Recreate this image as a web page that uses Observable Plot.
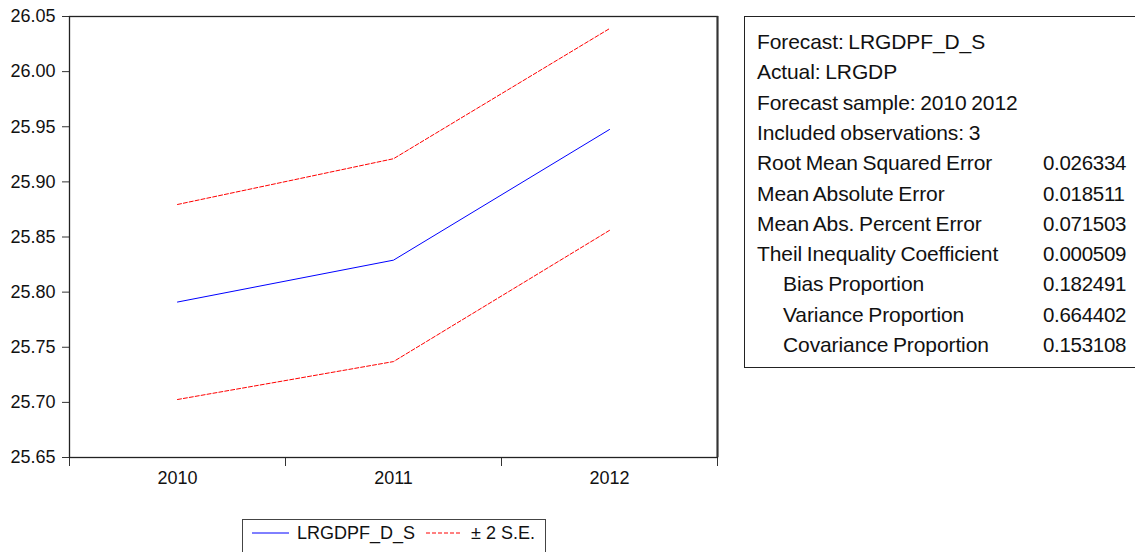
<!DOCTYPE html>
<html>
<head>
<meta charset="utf-8">
<script src="https://cdn.jsdelivr.net/npm/d3@7"></script>
<script src="https://cdn.jsdelivr.net/npm/@observablehq/plot@0.6"></script>
<style>
  html, body { margin: 0; padding: 0; background: #fff; }
  #wrap { position: relative; width: 1135px; height: 552px; overflow: hidden; font-family: "Liberation Sans", Arial, sans-serif; }
  #stats { position: absolute; left: 744px; top: 16px; width: 420px; height: 352px; border: 1px solid #222; box-sizing: border-box; font-size: 21px; color: #111; line-height: 24px; }
  #stats .row { position: absolute; left: 12px; white-space: nowrap; letter-spacing: -0.1px; word-spacing: -1px; }
  #stats .val { position: absolute; left: 298px; white-space: nowrap; font-size: 20.5px; letter-spacing: -0.3px; }
  #legend { position: absolute; left: 242px; top: 519px; width: 304px; height: 40px; border: 1px solid #444; box-sizing: border-box; font-size: 18px; color: #111; line-height: 22px; }
  #legend .t { position: absolute; top: 2px; white-space: nowrap; }
  #legend svg { position: absolute; left: 0; top: 0; }
</style>
</head>
<body>
<div id="wrap"></div>
<script>
const years = [2010, 2011, 2012];
const forecast = [25.791, 25.829, 25.9475];
const upper = [25.8795, 25.921, 26.039];
const lower = [25.7026, 25.737, 25.856];
const yTicks = [25.65, 25.70, 25.75, 25.80, 25.85, 25.90, 25.95, 26.00, 26.05];
const xBoundaries = [2009.5, 2010.5, 2011.5, 2012.5];
const statLabels = ["Forecast: LRGDPF_D_S", "Actual: LRGDP", "Forecast sample: 2010 2012", "Included observations: 3",
  "Root Mean Squared Error", "Mean Absolute Error", "Mean Abs. Percent Error", "Theil Inequality Coefficient",
  "Bias Proportion", "Variance Proportion", "Covariance Proportion"];
const statValues = ["", "", "", "", "0.026334", "0.018511", "0.071503", "0.000509", "0.182491", "0.664402", "0.153108"];
const statIndent = [0, 0, 0, 0, 0, 0, 0, 0, 1, 1, 1];
const legendLabels = ["LRGDPF_D_S", "± 2 S.E."];

const fc = years.map((x, i) => ({x, y: forecast[i]}));
const up = years.map((x, i) => ({x, y: upper[i]}));
const lo = years.map((x, i) => ({x, y: lower[i]}));

const chart = Plot.plot({
  width: 1135,
  height: 552,
  marginLeft: 69,
  marginTop: 16,
  marginRight: 418,
  marginBottom: 95,
  style: {fontFamily: '"Liberation Sans", Arial, sans-serif', fontSize: "18px", color: "#111", background: "transparent"},
  x: {domain: [2009.5, 2012.5]},
  y: {domain: [25.65, 26.05]},
  marks: [
    Plot.axisY({ticks: yTicks, tickFormat: d3.format(".2f"), tickSize: 7, tickPadding: 7, label: null, fontSize: 18, stroke: "#333"}),
    Plot.axisX({ticks: xBoundaries, tickFormat: () => "", tickSize: 9, label: null, stroke: "#333"}),
    Plot.axisX({ticks: years, tickFormat: d => String(d), tickSize: 0, tickPadding: 14, label: null, fontSize: 18}),
    Plot.frame({stroke: "#222", strokeWidth: 1.3}),
    Plot.ruleX([2012.5], {stroke: "#333", strokeWidth: 2}),
    Plot.line(up, {x: "x", y: "y", stroke: "#ff0000", strokeWidth: 1, strokeDasharray: "4,2"}),
    Plot.line(lo, {x: "x", y: "y", stroke: "#ff0000", strokeWidth: 1, strokeDasharray: "4,2"}),
    Plot.line(fc, {x: "x", y: "y", stroke: "#0000ff", strokeWidth: 1})
  ]
});

const wrap = document.getElementById("wrap");
wrap.appendChild(chart);

const stats = document.createElement("div");
stats.id = "stats";
statLabels.forEach((lab, i) => {
  const top = 13 + i * 30.3;
  const r = document.createElement("div");
  r.className = "row";
  r.style.top = top + "px";
  r.style.left = (12 + statIndent[i] * 26) + "px";
  r.textContent = lab;
  stats.appendChild(r);
  if (statValues[i]) {
    const v = document.createElement("div");
    v.className = "val";
    v.style.top = top + "px";
    v.textContent = statValues[i];
    stats.appendChild(v);
  }
});
wrap.appendChild(stats);

const legend = document.createElement("div");
legend.id = "legend";
legend.innerHTML = `<svg width="304" height="40">
  <line x1="9" x2="46" y1="13" y2="13" stroke="#0000ff" stroke-width="1"/>
  <line x1="183" x2="219" y1="13" y2="13" stroke="#ff0000" stroke-width="1" stroke-dasharray="4,2"/>
</svg>`;
const t1 = document.createElement("div"); t1.className = "t"; t1.style.left = "54px"; t1.textContent = legendLabels[0];
const t2 = document.createElement("div"); t2.className = "t"; t2.style.left = "228px"; t2.textContent = legendLabels[1];
legend.appendChild(t1); legend.appendChild(t2);
wrap.appendChild(legend);
</script>
</body>
</html>
